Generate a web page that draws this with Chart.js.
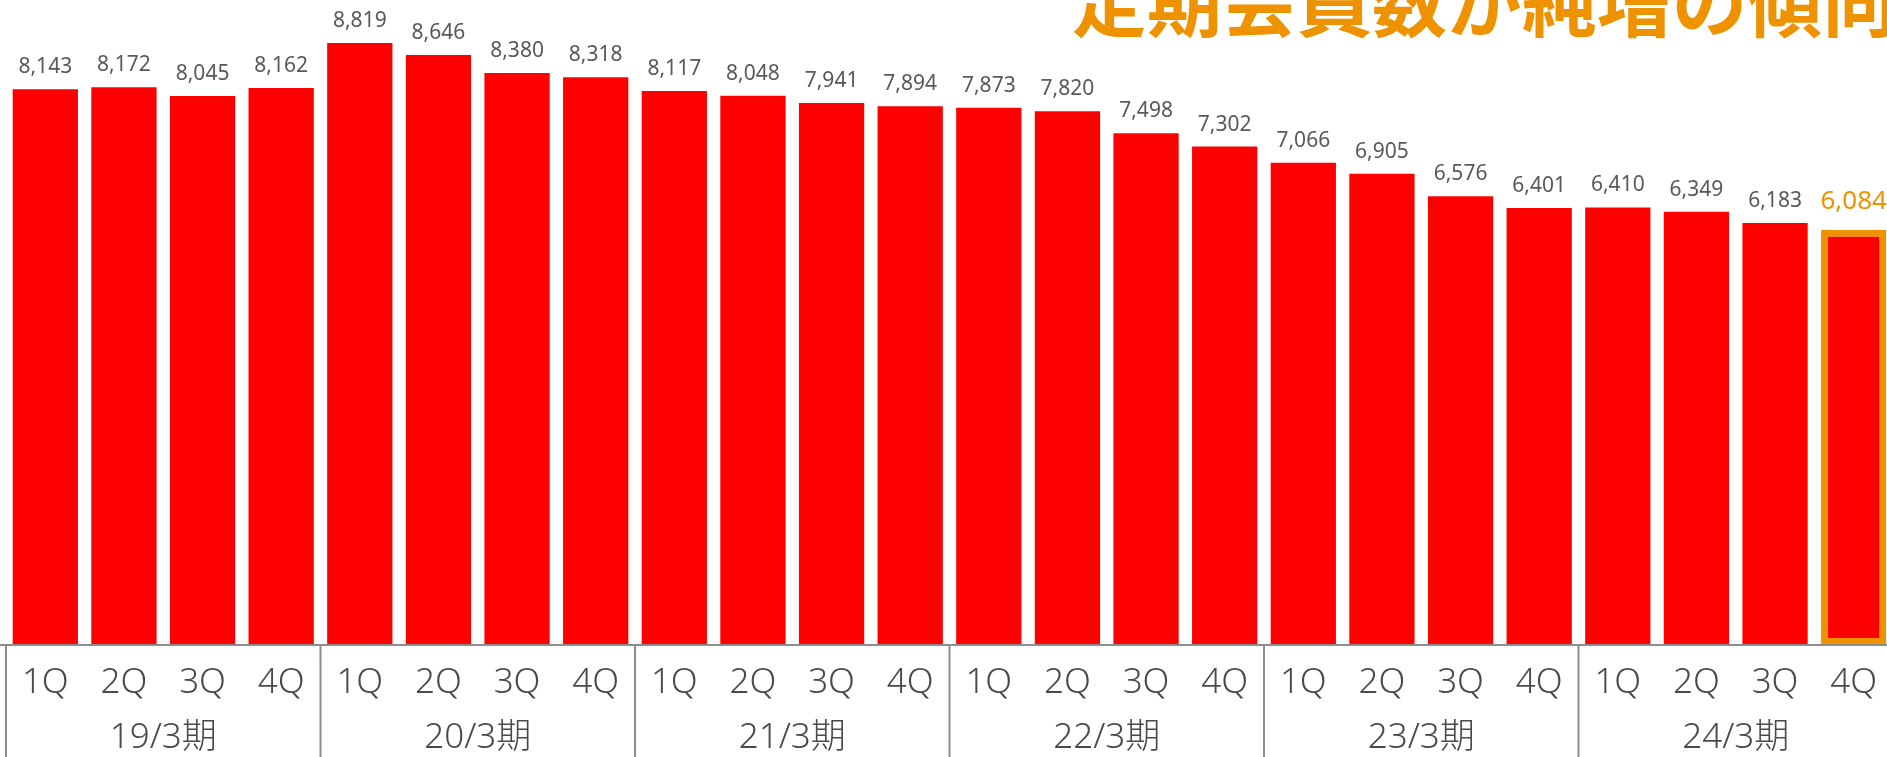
<!DOCTYPE html>
<html>
<head>
<meta charset="utf-8">
<script src="https://cdn.jsdelivr.net/npm/chart.js@4"></script>
<style>
  html, body { margin: 0; padding: 0; background: #fff; overflow: hidden; }
  #wrap { position: relative; width: 1900px; height: 757px; }
</style>
</head>
<body>
<div id="wrap"><canvas id="myChart"></canvas></div>
<script>
// quarterly member counts, 19/3期 1Q .. 24/3期 4Q
var quarters = ['1Q', '2Q', '3Q', '4Q'];
var years = ['19/3期', '20/3期', '21/3期', '22/3期', '23/3期', '24/3期'];
var members = [
  8143, 8172, 8045, 8162,
  8819, 8646, 8380, 8318,
  8117, 8048, 7941, 7894,
  7873, 7820, 7498, 7302,
  7066, 6905, 6576, 6401,
  6410, 6349, 6183, 6084
];
var titleText = '定期会員数が純増の傾向';

var labels = [];
years.forEach(function () {
  quarters.forEach(function (q) { labels.push(q); });
});

var last = members.length - 1;
var orange = '#ee9200';
var textGray = '#4a4a4a';
var latin = '"Noto Sans", "Noto Sans CJK JP", sans-serif';

// draws the value labels, the two-row axis and the headline
var extras = {
  id: 'extras',
  afterDatasetsDraw: function (chart) {
    var ctx = chart.ctx;
    var xs = chart.scales.x;
    var area = chart.chartArea;
    var meta = chart.getDatasetMeta(0);

    ctx.save();
    ctx.textAlign = 'center';
    ctx.textBaseline = 'middle';

    // values above bars
    meta.data.forEach(function (bar, i) {
      var txt = members[i].toLocaleString('en-US');
      if (i === last) {
        ctx.fillStyle = orange;
        ctx.font = '26px ' + latin;
        ctx.fillText(txt, bar.x, bar.y - 28);
      } else {
        ctx.fillStyle = '#595959';
        ctx.font = '21px ' + latin;
        ctx.fillText(txt, bar.x, bar.y - 22);
      }
    });

    // quarter labels
    ctx.fillStyle = textGray;
    ctx.font = '300 35px ' + latin;
    labels.forEach(function (lab, i) {
      ctx.fillText(lab, xs.getPixelForValue(i), area.bottom + 38);
    });

    // year labels and dividers
    var step = xs.getPixelForValue(1) - xs.getPixelForValue(0);
    ctx.strokeStyle = '#8c8c8c';
    ctx.lineWidth = 2;
    years.forEach(function (y, g) {
      var first = g * quarters.length;
      var left = xs.getPixelForValue(first) - step / 2;
      var mid = (xs.getPixelForValue(first) + xs.getPixelForValue(first + quarters.length - 1)) / 2;
      ctx.fillText(y, mid, area.bottom + 93);
      ctx.beginPath();
      ctx.moveTo(left, area.bottom);
      ctx.lineTo(left, chart.height);
      ctx.stroke();
    });

    // baseline
    ctx.beginPath();
    ctx.moveTo(0, area.bottom);
    ctx.lineTo(chart.width, area.bottom);
    ctx.stroke();

    // headline, partly cut off at the top like the slide
    ctx.textAlign = 'left';
    ctx.textBaseline = 'alphabetic';
    ctx.fillStyle = orange;
    ctx.font = 'bold 75px "Noto Sans CJK JP", sans-serif';
    ctx.fillText(titleText, 1072, 31);
    ctx.restore();
  }
};

var ctx = document.getElementById('myChart').getContext('2d');
var myChart = new Chart(ctx, {
  type: 'bar',
  data: {
    labels: labels,
    datasets: [{
      data: members,
      backgroundColor: '#ff0000',
      borderColor: members.map(function (v, i) { return i === last ? orange : '#ff0000'; }),
      borderWidth: members.map(function (v, i) { return i === last ? 7 : 0; }),
      borderSkipped: members.map(function (v, i) { return i === last ? false : 'start'; }),
      categoryPercentage: 1,
      barPercentage: 0.83
    }]
  },
  plugins: [extras],
  options: {
    responsive: true,
    maintainAspectRatio: false,
    animation: false,
    layout: { padding: { left: 6, right: 7, top: 0, bottom: 112 } },
    plugins: {
      legend: { display: false },
      tooltip: { enabled: false }
    },
    scales: {
      x: {
        display: false
      },
      y: {
        display: false,
        min: 0,
        max: 9450
      }
    }
  }
});
</script>
</body>
</html>
